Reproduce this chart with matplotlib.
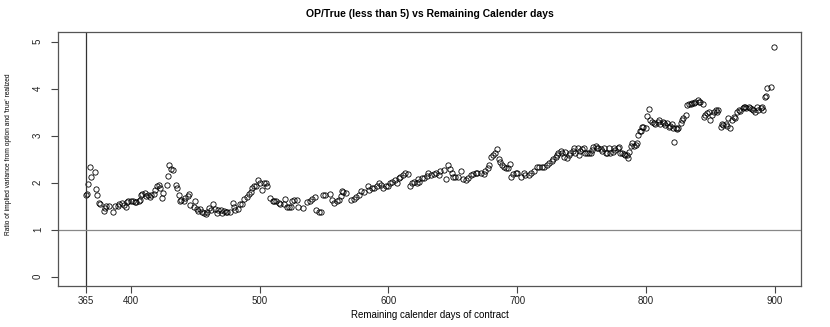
import matplotlib
matplotlib.use("Agg")
import matplotlib.pyplot as plt

# OP/True ratio vs remaining calender days

days = [365, 366, 367, 368, 369, 372, 373, 374, 375, 376, 379, 380, 381, 383, 386,
        388, 390, 391, 393, 395, 396, 397, 398, 400, 402, 403, 404, 406, 407, 408,
        409, 411, 412, 413, 415, 416, 418, 419, 420, 422, 423, 424, 425, 428, 429,
        430, 431, 433, 435, 436, 437, 438, 439, 441, 442, 444, 445, 446, 449, 450,
        451, 452, 454, 455, 457, 458, 459, 461, 462, 464, 465, 467, 468, 470, 471,
        472, 474, 475, 477, 479, 480, 481, 483, 485, 486, 488, 490, 492, 493, 494,
        496, 497, 499, 500, 502, 503, 505, 506, 508, 510, 511, 513, 515, 516, 519,
        520, 521, 523, 524, 525, 527, 529, 530, 534, 537, 539,
        541, 543, 544, 546, 548, 549, 551, 555, 556, 558, 560, 562, 563, 564, 565,
        567, 571, 573, 575, 577, 579, 581, 584, 585, 587, 589, 591, 593, 594, 596,
        598, 600, 601, 603, 605, 607, 608, 609, 611, 613, 615, 617, 618, 620, 622,
        623, 624, 626, 628, 630, 631, 633, 635, 637, 639, 640, 643, 645, 646, 648,
        649, 650, 652, 654, 656, 658, 660, 662, 664, 666, 668, 669, 672, 674, 675,
        677, 678, 680, 681, 683, 684, 686, 687, 688, 690, 691, 693, 694, 695, 697,
        699, 700, 703, 705, 706, 709, 711, 713, 715, 717, 719, 721, 723, 725,
        727, 728, 730, 731, 732, 734, 735, 736, 737, 739, 740, 741, 743, 744, 745,
        747, 748, 749, 750, 752, 753, 754, 756, 757, 758, 759, 761, 762, 763, 765,
        766, 767, 769, 770, 771, 772, 774, 775, 776, 778, 779, 780, 781, 783, 784,
        785, 786, 787, 788, 789, 791, 792, 793, 794, 795, 796, 797, 798, 800, 801,
        802, 803, 805, 806, 807, 809, 810, 811, 813, 814, 815, 816, 818, 819, 820,
        821, 822, 823, 824, 825, 827, 828, 829, 831, 832, 833, 835, 836, 837, 838,
        840, 841, 842, 844, 845, 846, 847, 849, 850, 851, 853, 854, 855, 856, 858,
        859, 860, 862, 863, 864, 865, 867, 868, 869, 871, 872, 873, 875, 876, 877,
        878, 880, 881, 882, 883, 885, 886, 887, 889, 890, 891, 892, 893, 894, 897,
        899]

ratio = [1.74, 1.76, 1.97, 2.34, 2.11, 2.22, 1.87, 1.73, 1.57, 1.54, 1.40, 1.46, 1.50, 1.50, 1.38,
         1.50, 1.51, 1.54, 1.56, 1.53, 1.49, 1.58, 1.60, 1.60, 1.60, 1.58, 1.59, 1.61, 1.63, 1.74,
         1.76, 1.79, 1.72, 1.73, 1.70, 1.74, 1.76, 1.85, 1.93, 1.96, 1.88, 1.67, 1.77, 1.95, 2.14,
         2.38, 2.29, 2.26, 1.94, 1.88, 1.74, 1.61, 1.62, 1.61, 1.68, 1.72, 1.76, 1.53, 1.49, 1.60,
         1.43, 1.40, 1.43, 1.38, 1.35, 1.33, 1.38, 1.46, 1.42, 1.55, 1.43, 1.35, 1.42, 1.42, 1.36,
         1.40, 1.37, 1.38, 1.38, 1.56, 1.48, 1.42, 1.43, 1.54, 1.55, 1.65, 1.70, 1.76, 1.81, 1.88,
         1.92, 1.93, 2.06, 1.99, 1.84, 1.99, 1.99, 1.92, 1.67, 1.60, 1.60, 1.60, 1.56, 1.55, 1.55,
         1.65, 1.48, 1.49, 1.48, 1.60, 1.62, 1.63, 1.48, 1.46, 1.58, 1.60,
         1.65, 1.69, 1.42, 1.38, 1.38, 1.74, 1.74, 1.76, 1.63, 1.56, 1.60, 1.63, 1.72, 1.83, 1.81,
         1.79, 1.63, 1.65, 1.70, 1.74, 1.83, 1.81, 1.93, 1.84, 1.88, 1.88, 1.92, 1.99, 1.95, 1.88,
         1.92, 1.93, 1.99, 2.02, 2.06, 1.99, 2.09, 2.11, 2.16, 2.21, 2.19, 1.92, 1.99, 2.02, 1.99,
         2.07, 2.02, 2.09, 2.09, 2.14, 2.20, 2.16, 2.19, 2.20, 2.16, 2.24, 2.26, 2.07, 2.38, 2.29,
         2.20, 2.13, 2.11, 2.11, 2.24, 2.07, 2.06, 2.09, 2.16, 2.19, 2.20, 2.20, 2.20, 2.18, 2.24,
         2.31, 2.38, 2.54, 2.59, 2.64, 2.71, 2.50, 2.43, 2.38, 2.34, 2.31, 2.31, 2.39, 2.13, 2.19,
         2.20, 2.21, 2.13, 2.20, 2.16, 2.16, 2.21, 2.24, 2.33, 2.33, 2.34, 2.34, 2.38, 2.41,
         2.45, 2.50, 2.54, 2.59, 2.63, 2.68, 2.63, 2.55, 2.66, 2.52, 2.59, 2.64, 2.68, 2.73, 2.63,
         2.73, 2.59, 2.68, 2.71, 2.73, 2.63, 2.64, 2.63, 2.64, 2.70, 2.75, 2.77, 2.73, 2.73, 2.71,
         2.68, 2.73, 2.63, 2.64, 2.73, 2.63, 2.66, 2.73, 2.70, 2.73, 2.75, 2.63, 2.63, 2.61, 2.59,
         2.59, 2.52, 2.66, 2.78, 2.84, 2.78, 2.80, 2.85, 3.01, 3.09, 3.09, 3.18, 3.18, 3.16, 3.42,
         3.56, 3.33, 3.30, 3.26, 3.25, 3.30, 3.33, 3.25, 3.30, 3.26, 3.23, 3.26, 3.19, 3.21, 3.25,
         3.16, 2.87, 3.16, 3.14, 3.16, 3.26, 3.33, 3.37, 3.44, 3.65, 3.67, 3.67, 3.70, 3.70, 3.72,
         3.75, 3.72, 3.72, 3.67, 3.39, 3.44, 3.48, 3.51, 3.33, 3.44, 3.51, 3.55, 3.51, 3.55, 3.19,
         3.25, 3.23, 3.25, 3.21, 3.37, 3.16, 3.33, 3.39, 3.37, 3.51, 3.55, 3.53, 3.58, 3.60, 3.60,
         3.58, 3.60, 3.58, 3.56, 3.55, 3.51, 3.60, 3.55, 3.58, 3.60, 3.55, 3.82, 3.85, 4.01, 4.04,
         4.89]

xticks = [365, 400, 500, 600, 700, 800, 900]
yticks = [0, 1, 2, 3, 4, 5]

plt.rcParams['font.family'] = ['Liberation Sans', 'DejaVu Sans']

fig = plt.figure(figsize=(8.3, 3.27), dpi=100)
ax = fig.add_axes([0.0702, 0.1254, 0.8949, 0.7758])

ax.plot(days, ratio, linestyle='none', marker='o', markersize=3.8,
        markerfacecolor='none', markeredgecolor='black', markeredgewidth=0.6)

ax.axvline(365, color='#333333', lw=0.9)
ax.axhline(1, color='#888888', lw=0.9)

# R style 4% padding
xr = max(days) - min(days)
ax.set_xlim(min(days) - 0.04 * xr, max(days) + 0.04 * xr)
ax.set_ylim(-0.2, 5.2)

ax.set_xticks(xticks)
ax.set_yticks(yticks)
ax.tick_params(axis='both', length=5, width=0.8, color='#444444',
               labelsize=7, labelcolor='#222222')
ax.tick_params(axis='x', pad=2)
ax.tick_params(axis='y', pad=6)
for lab in ax.get_yticklabels():
    lab.set_rotation(90)
    lab.set_va('center')

for sp in ax.spines.values():
    sp.set_color('#555555')
    sp.set_linewidth(0.9)

ax.set_title('OP/True (less than 5) vs Remaining Calender days',
             fontsize=7.5, fontweight='bold', pad=11)
ax.set_xlabel('Remaining calender days of contract', fontsize=7, labelpad=3)
fig.text(0.0097, 0.527, "Ratio of implied variance from option and 'true' realized",
         rotation=90, ha='center', va='center', fontsize=4.8)

fig.savefig('out.png', dpi=100)
